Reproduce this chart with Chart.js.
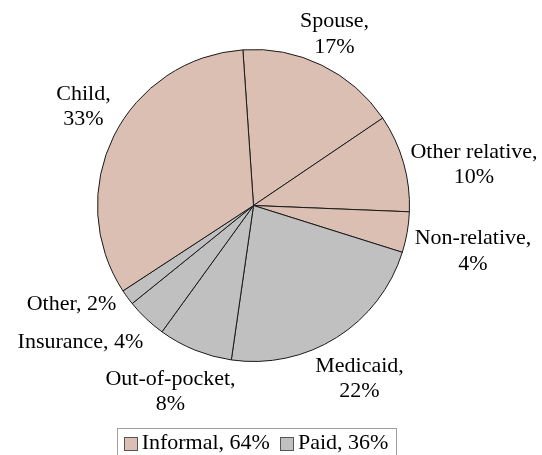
<!DOCTYPE html>
<html>
<head>
<meta charset="utf-8">
<script src="https://cdn.jsdelivr.net/npm/chart.js@4.4.1/dist/chart.umd.min.js"></script>
<style>
  html, body { margin: 0; padding: 0; background: #fff; }
  #wrap { width: 542px; height: 455px; position: relative; }
</style>
</head>
<body>
<div id="wrap"><canvas id="careChart" width="542" height="455"></canvas></div>
<script>
// care sources, clockwise from the top
const categories = ["Spouse", "Other relative", "Non-relative", "Medicaid", "Out-of-pocket", "Insurance", "Other", "Child"];
const shares = [16.6, 10.1, 4.2, 22.4, 7.7, 4.2, 1.6, 33.1];
const groupOf = ["Informal", "Informal", "Informal", "Paid", "Paid", "Paid", "Paid", "Informal"];
const groups = ["Informal", "Paid"];
const twoLine = [true, true, true, true, true, false, false, true];

const groupColor = { Informal: "#dbbfb3", Paid: "#c0c0c0" };
const FONT = '22px "Liberation Serif", "Times New Roman", serif';

// where each label block sits, relative to the pie centre (px)
const labelOffset = [
  [81, -171.5], [220.5, -41], [219.5, 45.5], [106, 173],
  [-83, 186], [-173, 136.5], [-182, 98.5], [-170, -99]
];

function pct(v) { return Math.round(v) + "%"; }

const groupTotals = groups.map(g =>
  shares.reduce((s, v, i) => s + (groupOf[i] === g ? v : 0), 0));

const sliceLabels = {
  id: "sliceLabels",
  afterDatasetsDraw(chart) {
    const ctx = chart.ctx;
    const arcs = chart.getDatasetMeta(0).data;
    ctx.save();
    ctx.font = FONT;
    ctx.fillStyle = "#000";
    ctx.textAlign = "center";
    ctx.textBaseline = "middle";
    arcs.forEach((arc, i) => {
      const cx = arc.x + labelOffset[i][0];
      const cy = arc.y + labelOffset[i][1];
      if (twoLine[i]) {
        ctx.fillText(categories[i] + ",", cx, cy - 12.75);
        ctx.fillText(pct(shares[i]), cx, cy + 12.75);
      } else {
        ctx.fillText(categories[i] + ", " + pct(shares[i]), cx, cy);
      }
    });
    ctx.restore();
  }
};

const boxLegend = {
  id: "boxLegend",
  afterDraw(chart) {
    const ctx = chart.ctx;
    ctx.save();
    ctx.font = FONT;
    ctx.textBaseline = "middle";
    ctx.textAlign = "left";
    const sq = 13, gapIn = 5, gapOut = 10, pad = 7;
    const texts = groups.map((g, i) => g + ", " + pct(groupTotals[i]));
    const widths = texts.map(t => ctx.measureText(t).width);
    let total = 0;
    widths.forEach((w, i) => { total += sq + gapIn + w + (i ? gapOut : 0); });
    const midX = 256, top = 428, h = 27;
    let x = midX - total / 2;
    ctx.strokeStyle = "#a0a0a0";
    ctx.lineWidth = 1;
    ctx.strokeRect(Math.round(x - pad) + 0.5, top + 0.5, Math.round(total + 2 * pad), h);
    const cy = top + h / 2 + 1.5;
    groups.forEach((g, i) => {
      ctx.fillStyle = groupColor[g];
      ctx.fillRect(Math.round(x) + 0.5, Math.round(cy - sq / 2) + 0.5, sq, sq);
      ctx.strokeStyle = "#555";
      ctx.strokeRect(Math.round(x) + 0.5, Math.round(cy - sq / 2) + 0.5, sq, sq);
      x += sq + gapIn;
      ctx.fillStyle = "#000";
      ctx.fillText(texts[i], x, cy);
      x += widths[i] + gapOut;
    });
    ctx.restore();
  }
};

new Chart(document.getElementById("careChart"), {
  type: "pie",
  data: {
    labels: categories,
    datasets: [{
      data: shares,
      backgroundColor: groupOf.map(g => groupColor[g]),
      borderColor: "#1a1a1a",
      borderWidth: 1
    }]
  },
  options: {
    responsive: false,
    animation: false,
    rotation: -3.9,
    layout: { padding: { left: 97, right: 132, top: 49, bottom: 93 } },
    plugins: {
      legend: { display: false },
      tooltip: { enabled: false }
    }
  },
  plugins: [sliceLabels, boxLegend]
});
</script>
</body>
</html>
